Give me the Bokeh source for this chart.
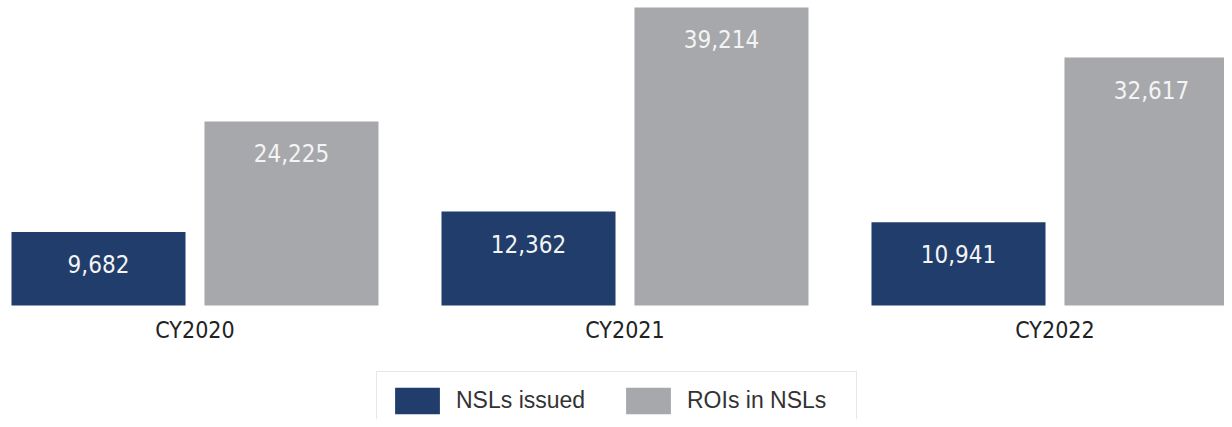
from bokeh.plotting import figure
from bokeh.models import ColumnDataSource, Range1d, FixedTicker, Legend, LegendItem
from bokeh.transform import dodge
from bokeh.core.properties import value
from bokeh.embed import file_html
from bokeh.resources import INLINE

categories = ["CY2020", "CY2021", "CY2022"]
nsls_issued = [9682, 12362, 10941]
rois_in_nsls = [24225, 39214, 32617]

xs = list(range(len(categories)))
src = ColumnDataSource(data=dict(
    x=xs,
    nsl=nsls_issued,
    roi=rois_in_nsls,
    nsl_lbl=[f"{v:,}" for v in nsls_issued],
    roi_lbl=[f"{v:,}" for v in rois_in_nsls],
))

NARROW = "DejaVu Sans Condensed, Roboto, sans-serif"
BLUE = "#203d6b"
GRAY = "#a7a8ab"

# frame covers the whole canvas; baseline (0) sits at 305px from the top
y_top = 40130.0
k = 305.0 / y_top
y_bottom = -(419 - 305) / k

p = figure(width=1224, height=419, output_backend="svg", toolbar_location=None,
           x_range=Range1d(-0.4523, 2.3942), y_range=Range1d(y_bottom, y_top),
           y_axis_location=None, min_border_left=0, min_border_right=0,
           min_border_top=0, min_border_bottom=0)
p.outline_line_color = None
p.xgrid.visible = False
p.ygrid.visible = False

off = 0.2244
w = 0.4047
r1 = p.vbar(x=dodge("x", -off, range=p.x_range), top="nsl", width=w, bottom=0,
            source=src, fill_color=BLUE, line_color=None)
r2 = p.vbar(x=dodge("x", off, range=p.x_range), top="roi", width=w, bottom=0,
            source=src, fill_color=GRAY, line_color=None)

for key, lbl, o in [("nsl", "nsl_lbl", -off), ("roi", "roi_lbl", off)]:
    p.text(x=dodge("x", o, range=p.x_range), y=key, text=lbl, source=src,
           y_offset=32, text_align="center", text_baseline="middle",
           text_color="#f4f4f4", text_font=value(NARROW), text_font_size="24px")

ax = p.xaxis[0]
ax.fixed_location = 0
ax.ticker = FixedTicker(ticks=xs)
ax.major_label_overrides = {i: c for i, c in zip(xs, categories)}
ax.axis_line_color = None
ax.major_tick_line_color = None
ax.minor_tick_line_color = None
ax.major_label_standoff = 5
ax.major_label_text_font = NARROW
ax.major_label_text_font_size = "23px"
ax.major_label_text_color = "#222222"

legend = Legend(items=[LegendItem(label="NSLs issued", renderers=[r1]),
                       LegendItem(label="ROIs in NSLs", renderers=[r2])],
                orientation="horizontal", location=(376, -11),
                glyph_width=56, glyph_height=33, label_standoff=11, spacing=7,
                label_width=157, padding=12, margin=0,
                label_text_font="Liberation Sans", label_text_font_size="23px",
                label_text_color="#333333", border_line_color="#cfcfcf",
                border_line_width=1, background_fill_color="white",
                background_fill_alpha=1.0)
p.add_layout(legend, "center")

open("out.html", "w").write(file_html(p, INLINE))
